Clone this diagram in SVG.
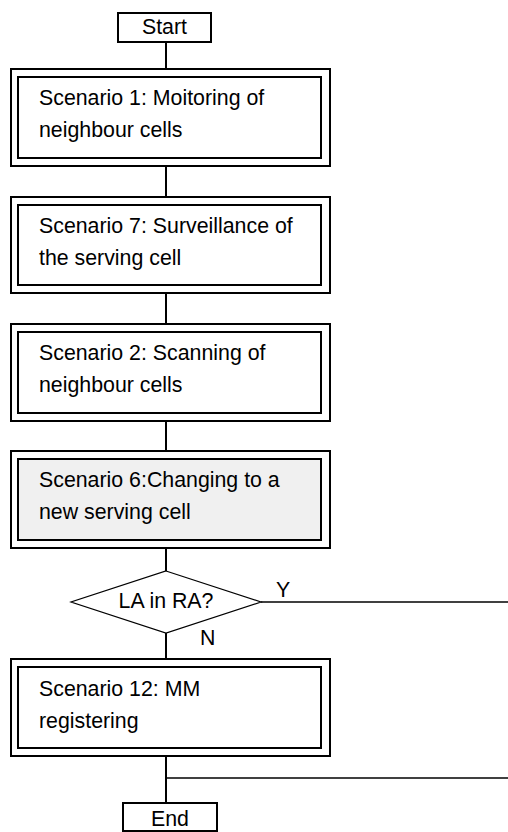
<svg xmlns="http://www.w3.org/2000/svg" width="508" height="832" viewBox="0 0 508 832">
<style>
  text { font-family: "Liberation Sans", Arial, sans-serif; font-size: 21.33px; fill: #000; }
  .term { fill: #fff; stroke: #000; stroke-width: 2; }
  .outer { fill: #fff; stroke: #000; stroke-width: 2; }
  .inner { fill: #fff; stroke: #000; stroke-width: 2; }
  .shaded { fill: #f0f0f0; }
  .dec { fill: #fff; stroke: #000; stroke-width: 1.2; }
  .conn { stroke: #000; stroke-width: 2; fill: none; }
  .thin { stroke: #000; stroke-width: 1.3; fill: none; }
</style>
<g id="connectors">
  <line class="conn" x1="166" y1="42" x2="166" y2="69"/>
  <line class="conn" x1="166" y1="166" x2="166" y2="197"/>
  <line class="conn" x1="166" y1="293" x2="166" y2="324"/>
  <line class="conn" x1="166" y1="421" x2="166" y2="451"/>
  <line class="conn" x1="166" y1="548" x2="166" y2="571"/>
  <line class="conn" x1="166" y1="633" x2="166" y2="659"/>
  <line class="conn" x1="166" y1="756" x2="166" y2="803"/>
  <line class="thin" x1="261" y1="602" x2="508" y2="602"/>
  <line class="thin" x1="166" y1="778" x2="508" y2="778"/>
  <text x="276" y="597">Y</text>
  <text x="200" y="645">N</text>
</g>
<g id="start">
  <rect class="term" x="118" y="13" width="93" height="29"/>
  <text x="164.5" y="33.5" text-anchor="middle">Start</text>
</g>
<g id="scenario1">
  <rect class="outer" x="11" y="69" width="319" height="97"/>
  <rect class="inner" x="18" y="77" width="303" height="81"/>
  <text x="39" y="105">Scenario 1: Moitoring of</text>
  <text x="39" y="137">neighbour cells</text>
</g>
<g id="scenario7">
  <rect class="outer" x="11" y="197" width="319" height="96"/>
  <rect class="inner" x="18" y="205" width="303" height="80"/>
  <text x="39" y="233">Scenario 7: Surveillance of</text>
  <text x="39" y="265">the serving cell</text>
</g>
<g id="scenario2">
  <rect class="outer" x="11" y="324" width="319" height="97"/>
  <rect class="inner" x="18" y="332" width="303" height="81"/>
  <text x="39" y="360">Scenario 2: Scanning of</text>
  <text x="39" y="392">neighbour cells</text>
</g>
<g id="scenario6">
  <rect class="outer" x="11" y="451" width="319" height="97"/>
  <rect class="inner shaded" x="18" y="459" width="303" height="81"/>
  <text x="39" y="487">Scenario 6:Changing to a</text>
  <text x="39" y="519">new serving cell</text>
</g>
<g id="decision">
  <polygon class="dec" points="166,571 261,602 166,633 71,602"/>
  <text x="166" y="607.5" text-anchor="middle">LA in RA?</text>
</g>
<g id="scenario12">
  <rect class="outer" x="11" y="659" width="319" height="97"/>
  <rect class="inner" x="18" y="667" width="303" height="81"/>
  <text x="39" y="696">Scenario 12: MM</text>
  <text x="39" y="728">registering</text>
</g>
<g id="end">
  <rect class="term" x="123" y="803" width="94" height="28"/>
  <text x="170" y="826" text-anchor="middle">End</text>
</g>
</svg>
